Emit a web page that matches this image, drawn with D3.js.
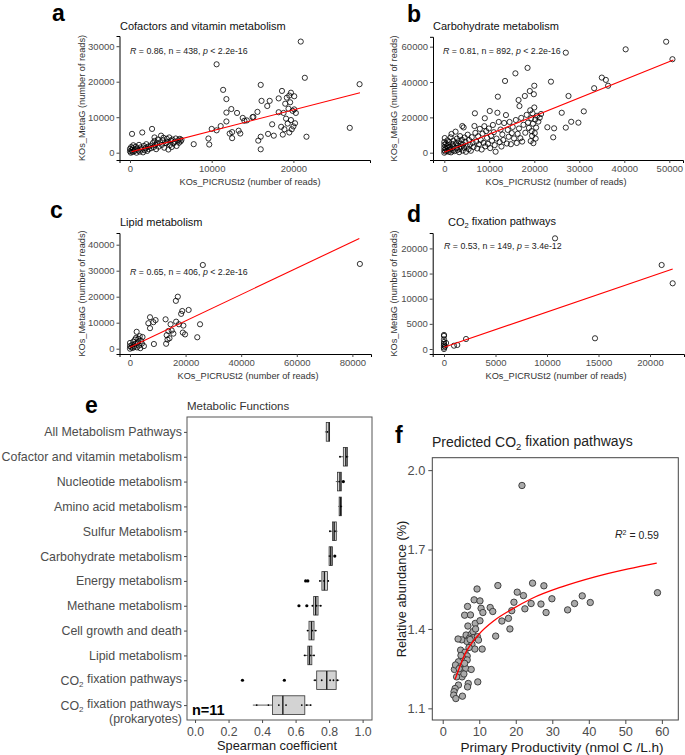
<!DOCTYPE html>
<html><head><meta charset="utf-8">
<script src="https://cdn.jsdelivr.net/npm/d3@7"></script>
<style>
body{margin:0;background:#fff}
svg{display:block}
text{font-family:"Liberation Sans",Arial,sans-serif}
</style>
</head><body>
<svg id="c" width="685" height="755"></svg>
<script>
// ---------------- DATA ----------------
// Panel a: Cofactors and vitamin metabolism  [PICRUSt2, MetaG]
const aPoints = [[0,400],[0,1100],[100,0],[150,1600],[200,700],[250,5300],[300,200],[350,1300],[400,2100],[500,400],[600,900],[700,1700],[800,0],[900,1200],[1000,600],[1100,2200],[1200,300],[1300,1500],[1400,900],[1500,5700],[1600,100],[1700,1900],[1800,700],[1900,1300],[2000,2400],[2100,500],[2200,1700],[2300,1000],[2500,2000],[2600,1300],[2700,6700],[2800,2700],[2900,1600],[3000,3300],[3000,4300],[3100,2200],[3200,1000],[3300,2700],[3400,3700],[3500,1700],[3700,2900],[3800,4800],[3900,2200],[4000,3500],[4100,4200],[4200,1400],[4400,2700],[4500,3900],[4600,3000],[4700,900],[4800,4300],[4900,2200],[5000,3400],[5100,1600],[5200,3700],[5300,2600],[5500,3100],[5600,4000],[5700,1900],[5900,3500],[6000,2800],[6100,3900],[6200,3200],[6300,3600],[7800,2400],
[9600,4000],[9700,2300],[10000,6700],[10600,6300],[10600,24900],[11100,7500],[11400,17700],[11800,15100],[11800,11300],[11800,8800],[12200,5400],[12400,12300],[12500,4100],[12500,5800],[13100,11200],[13300,6200],[13500,5400],[13800,9800],[14000,9000],[14300,9100],[15000,10000],[15100,10100],[15600,11500],[15700,3400],[16000,19100],[16100,14600],[16000,4500],[16000,960],[16800,13150],[17100,14600],[16900,5300],[17400,8000],[17600,4800],[18200,15300],[18200,11400],[18600,17400],[18500,7300],[18700,5100],[18800,11200],[18900,6600],[19000,13800],[19100,9600],[19200,15500],[19300,8200],[19400,12400],[19500,16100],[19500,5700],[19600,14200],[19700,16900],[19700,9200],[19800,6600],[19900,11800],[20000,7400],[20100,15900],[20100,12200],[20200,8300],[20300,11200],[20900,31300],[21400,21100],[21600,4500],[26900,7000],[28100,19300]];
const aFit = [[200,300],[28150,16900]];
const aXTicks = [0,10000,20000];
const aYTicks = [0,10000,20000,30000];

// Panel b: Carbohydrate metabolism
const bPoints = [[0,0],[0,1500],[0,3000],[0,4500],[0,6000],[100,8300],[200,700],[300,2200],[400,5200],[500,3700],[600,1000],[700,7000],[800,2800],[900,4300],[1000,500],[1100,6000],[1200,1800],[1300,3300],[1400,8700],[1500,200],[1600,10600],[1700,2400],[1800,4900],[1900,1200],[2000,6800],[2100,3600],[2300,900],[2500,11900],[2600,5400],[2700,2700],[2800,8000],[2900,1500],[3000,4200],[3200,6500],[3300,300],[3400,2200],[3500,9400],[3600,5100],[3700,3400],[3900,7300],[4000,15100],[4100,1200],[4200,4600],[4300,14300],[4400,2800],[4500,8600],[4700,6200],[4800,500],[5000,3800],[5200,10200],[5400,2000],[5500,7200],[5700,4500],[5900,1100],[6100,8800],[6300,5600],[6500,3200],[6700,15100],[6800,22300],[6900,11200],[7100,6300],[7300,2400],[7500,9300],[7700,4800],[7900,13500],[8100,7200],[8300,1800],[8500,10800],[8700,5600],[8900,15000],[9000,19500],[9100,3600],[9300,12200],[9500,8400],[9700,5000],[9900,13700],[10100,23600],[10200,2600],[10400,9600],[10600,6800],[10800,15700],[11000,11600],[11200,4300],[11400,570],[11600,8000],[11800,22600],[11900,31700],[12100,17400],[12300,6000],[12500,13100],[12700,3500],[12900,10300],[13100,7200],[13300,16800],[13500,40600],[13700,21300],[13900,5200],[14100,12900],[14300,9000],[14500,17400],[14800,4800],[15000,11100],[15200,14600],[15500,8100],[15800,44900],[15900,18500],[16100,5500],[16300,10700],[16500,29800],[16600,13700],[16700,26400],[16900,8200],[17100,19700],[17300,6300],[17600,15800],[17900,32100],[18000,11300],[18300,21400],[18500,48000],[18600,17000],[18800,14000],[19000,34900],[19100,24000],[19200,6600],[19300,19500],[19400,12200],[19500,9500],[19600,22300],[19700,16400],[19800,5400],[19900,33100],[20000,37900],[20000,25600],[20100,11100],[20200,18800],[20300,8000],[20400,14200],[20600,20900],[20900,17600],[21200,19800],[21500,21900],[22900,14400],[23700,40200],[24200,8700],[24400,13800],[26100,22600],[27000,14200],[27000,56600],[27600,32100],[28200,17500],[29800,17000],[31000,23400],[33300,36500],[35000,42500],[35900,41200],[36400,37900],[40300,58500],[49300,62800],[50700,52900]];
const bFit = [[0,220],[50900,52450]];
const bXTicks = [0,10000,20000,30000,40000,50000];
const bYTicks = [0,20000,40000,60000];

// Panel c: Lipid metabolism
const cPoints = [[0,0],[0,1000],[0,2200],[500,500],[800,1500],[1000,300],[1200,2700],[1500,800],[1800,3500],[2000,1800],[2200,4200],[2400,6500],[2500,500],[2800,2500],[3000,3800],[3200,1200],[3500,4800],[3700,200],[4000,3000],[4300,2000],[4500,4500],[5000,1000],[8600,1800],[6600,9800],[7200,12100],[7200,7900],[8400,10200],[9200,11000],[12800,11300],[13000,1900],[13200,5200],[13500,3500],[13800,6800],[14200,4000],[14600,9400],[15000,7000],[15600,5800],[16600,10400],[16500,18400],[17200,20000],[17600,9400],[18400,13400],[18800,14500],[19000,6200],[19200,8900],[19800,5500],[21100,14900],[24200,4400],[25200,9400],[26200,32200],[82700,32600]];
const cFit = [[0,540],[82500,42400]];
const cXTicks = [0,20000,40000,60000,80000];
const cYTicks = [0,10000,20000,30000,40000];

// Panel d: CO2 fixation pathways
const dPoints = [[0,0],[0,300],[0,700],[0,1000],[0,1400],[0,1900],[0,2600],[0,2800],[100,500],[200,1200],[970,660],[1290,800],[2140,1990],[10780,22000],[14660,2130],[21130,16700],[22200,13060]];
const dFit = [[0,340],[22200,15900]];
const dXTicks = [0,5000,10000,15000,20000];
const dYTicks = [0,5000,10000,15000,20000];

// Panel e: Spearman coefficients (n = 11)
const eCats = ["All Metabolism Pathways","Cofactor and vitamin metabolism","Nucleotide metabolism","Amino acid metabolism","Sulfur Metabolism","Carbohydrate metabolism","Energy metabolism","Methane metabolism","Cell growth and death","Lipid metabolism","CO2 fixation pathways","CO2 fixation pathways (prokaryotes)"];
const eLo  = [0.775,0.860,0.840,0.855,0.800,0.795,0.742,0.698,0.667,0.648,0.706,0.345];
const eQ1  = [0.783,0.885,0.850,0.860,0.820,0.800,0.757,0.708,0.680,0.673,0.726,0.462];
const eMed = [0.800,0.900,0.865,0.868,0.830,0.810,0.772,0.720,0.695,0.683,0.786,0.524];
const eQ3  = [0.803,0.910,0.873,0.873,0.843,0.820,0.790,0.734,0.710,0.697,0.842,0.655];
const eHi  = [0.805,0.915,0.875,0.878,0.850,0.822,0.798,0.755,0.725,0.715,0.860,0.693];
const eOutliers = [[],[],[0.885],[],[],[0.834],[0.660,0.673],[0.620,0.667],[],[],[0.283,0.533],[]];
const eJitter = [[0.79],[0.865,0.905],[0.86],[0.87],[0.805,0.835],[0.805],[0.745,0.77,0.795],[0.70,0.725,0.75],[0.672,0.70,0.72],[0.655,0.69,0.71],[0.716,0.756,0.806,0.826,0.85],[0.368,0.438,0.50,0.543,0.637,0.667,0.69]];
const eXTicks = [0,0.2,0.4,0.6,0.8,1.0];

// Panel f: Primary productivity vs predicted CO2 fixation relative abundance
const fPoints = [[21.7,1.942],[58.8,1.537],[27.7,1.563],[24.6,1.573],[15.1,1.564],[9.4,1.551],[20.4,1.539],[22.1,1.526],[29.9,1.514],[38.2,1.525],[40.4,1.50],[36.1,1.496],[34.2,1.472],[28.3,1.462],[26.9,1.494],[24.2,1.496],[22.5,1.476],[19.5,1.501],[18.9,1.469],[18.0,1.44],[18.4,1.40],[16.2,1.43],[14.5,1.373],[13.0,1.481],[13.7,1.466],
[8.6,1.51],[10.2,1.506],[10.5,1.478],[6.8,1.485],[11.0,1.462],[6.0,1.452],[7.6,1.453],[6.9,1.411],[8.9,1.421],[10.2,1.431],[6.4,1.377],[7.8,1.38],[8.4,1.367],[9.5,1.371],[7.3,1.365],[6.6,1.353],[5.2,1.359],[4.2,1.362],[8.0,1.342],[8.8,1.324],[10.8,1.324],[9.8,1.358],[4.9,1.32],[6.1,1.312],[6.7,1.298],[5.6,1.289],[6.7,1.283],[4.3,1.276],[3.2,1.247],[3.5,1.264],[4.9,1.257],[5.5,1.247],[6.3,1.251],[7.8,1.247],[4.8,1.232],[5.3,1.219],[3.8,1.219],[7.0,1.194],[6.8,1.181],[9.6,1.2],[4.3,1.188],[3.4,1.175],[3.1,1.163],[3.0,1.15],[3.6,1.137],[5.4,1.146],[7.2,1.33],[5.0,1.30],[6.0,1.27],[8.3,1.39],[9.0,1.40],[7.5,1.36],[5.8,1.23],[4.5,1.25]];
const fFitX = [3.4,6.1,9.8,14.3,18.9,24.4,32.6,41.7,50.8,58.6];
const fFitY = [1.21,1.305,1.378,1.434,1.474,1.515,1.559,1.597,1.627,1.649];
const fXTicks = [0,10,20,30,40,50,60];
const fYTicks = [1.1,1.4,1.7,2.0];

// ---------------- DRAWING ----------------
const FONT = '"Liberation Sans",Arial,sans-serif';
const svg = d3.select("#c");

function styleAxis(g, fs, domain) {
  g.attr("font-family", FONT).attr("font-size", fs);
  if (domain) g.select(".domain").attr("stroke", "#000").attr("stroke-width", 1);
  else g.select(".domain").remove();
  g.selectAll(".tick line").attr("stroke", "#333").attr("stroke-width", 0.9);
  g.selectAll(".tick text").attr("fill", "#4d4d4d");
}

function panelLetter(t, x, y) {
  svg.append("text").attr("x", x).attr("y", y).attr("font-size", 23).attr("font-weight", "bold")
    .attr("fill", "#000").text(t);
}

function statText(x, y, parts) {
  const t = svg.append("text").attr("x", x).attr("y", y).attr("font-size", 8.8).attr("fill", "#222");
  parts.forEach(p => t.append("tspan").attr("font-style", p[1] ? "italic" : "normal").text(p[0]));
}

function co2Text(sel, before, after, subSize) {
  sel.append("tspan").text(before + "CO");
  sel.append("tspan").attr("dy", "0.3em").attr("font-size", subSize).text("2");
  sel.append("tspan").attr("dy", "-0.3em").text(after);
}

function scatter(o) {
  const g = svg.append("g");
  const x = d3.scaleLinear().domain(o.xDomain).range([o.L, o.R]);
  const y = d3.scaleLinear().domain(o.yDomain).range([o.B, o.T]);
  g.append("g").attr("transform", `translate(0,${o.B})`)
    .call(d3.axisBottom(x).tickValues(o.xTicks).tickFormat(d3.format("d")).tickSizeOuter(0).tickSize(3).tickPadding(2))
    .call(s => styleAxis(s, 9.5, true));
  g.append("g").attr("transform", `translate(${o.L},0)`)
    .call(d3.axisLeft(y).tickValues(o.yTicks).tickFormat(d3.format("d")).tickSizeOuter(0).tickSize(3).tickPadding(2))
    .call(s => styleAxis(s, 9.5, true));
  g.append("g").selectAll("circle").data(o.points).join("circle")
    .attr("cx", d => x(d[0])).attr("cy", d => y(d[1])).attr("r", 2.6)
    .attr("fill", "#fff").attr("fill-opacity", 0).attr("stroke", "#000").attr("stroke-width", 0.8);
  g.append("path").datum(o.fit)
    .attr("d", d3.line().x(d => x(d[0])).y(d => y(d[1])))
    .attr("fill", "none").attr("stroke", "#ff0000").attr("stroke-width", 1.1);
  g.append("text").attr("x", o.xTitleX).attr("y", o.B + 25).attr("text-anchor", "middle")
    .attr("font-size", 9.2).attr("fill", "#333").text("KOs_PICRUSt2 (number of reads)");
  g.append("text").attr("transform", `translate(${o.yTitleX},${(o.T + o.B) / 2}) rotate(-90)`)
    .attr("text-anchor", "middle").attr("font-size", 9.2).attr("fill", "#333").text("KOs_MetaG (number of reads)");
  return {x, y};
}

// ---- Panel a
panelLetter("a", 52, 21);
svg.append("text").attr("x", 120).attr("y", 29.5).attr("font-size", 11).attr("fill", "#111").text("Cofactors and vitamin metabolism");
scatter({L:119.5, R:370, T:36, B:160, xDomain:[-1285,29376], yDomain:[-2056,32873],
  xTicks:aXTicks, yTicks:aYTicks, points:aPoints, fit:aFit, xTitleX:250, yTitleX:84.5});
statText(130, 53.5, [["R",1],[" = 0.86, n = 438, ",0],["p",1],[" < 2.2e-16",0]]);

// ---- Panel b
panelLetter("b", 407, 22);
svg.append("text").attr("x", 433).attr("y", 29.5).attr("font-size", 11).attr("fill", "#111").text("Carbohydrate metabolism");
scatter({L:433, R:683, T:36.8, B:160, xDomain:[-2511,53044], yDomain:[-4130,65591],
  xTicks:bXTicks, yTicks:bYTicks, points:bPoints, fit:bFit, xTitleX:556, yTitleX:396.5});
statText(443, 53.5, [["R",1],[" = 0.81, n = 892, ",0],["p",1],[" < 2.2e-16",0]]);

// ---- Panel c
panelLetter("c", 50, 218);
svg.append("text").attr("x", 120).attr("y", 225.7).attr("font-size", 11).attr("fill", "#111").text("Lipid metabolism");
scatter({L:119.5, R:371, T:233, B:354, xDomain:[-3777,86700], yDomain:[-2038,44500],
  xTicks:cXTicks, yTicks:cYTicks, points:cPoints, fit:cFit, xTitleX:248, yTitleX:84.5});
statText(130, 275, [["R",1],[" = 0.65, n = 406, ",0],["p",1],[" < 2.2e-16",0]]);

// ---- Panel d
panelLetter("d", 407, 221.5);
co2Text(svg.append("text").attr("x", 448).attr("y", 225.7).attr("font-size", 11).attr("fill", "#111"), "", " fixation pathways", 7.5);
scatter({L:432.7, R:684, T:233, B:354, xDomain:[-1097,23300], yDomain:[-994,23062],
  xTicks:dXTicks, yTicks:dYTicks, points:dPoints, fit:dFit, xTitleX:556, yTitleX:396.5});
statText(444, 249, [["R",1],[" = 0.53, n = 149, ",0],["p",1],[" = 3.4e-12",0]]);

// ---- Panel e
(function(){
  const L = 187, R = 372, T = 417, B = 720;
  panelLetter("e", 85, 413);
  svg.append("text").attr("x", 187).attr("y", 410).attr("font-size", 11.5).attr("fill", "#333").text("Metabolic Functions");
  const x = d3.scaleLinear().domain([-0.048, 1.056]).range([L, R]);
  const y = d3.scalePoint().domain(eCats).range([T, B]).padding(0.6);
  const g = svg.append("g");
  g.append("g").attr("transform", `translate(0,${B})`)
    .call(d3.axisBottom(x).tickValues(eXTicks).tickFormat(d3.format(".1f")).tickSize(3).tickPadding(4))
    .call(s => styleAxis(s, 12.3, false));
  g.append("g").attr("transform", `translate(${L},0)`)
    .call(d3.axisLeft(y).tickFormat("").tickSize(3))
    .call(s => styleAxis(s, 12.4, false));
  eCats.forEach((c, i) => {
    const yy = y(c);
    if (c.startsWith("CO2")) {
      const t = g.append("text").attr("x", 182).attr("y", yy + 4.5).attr("text-anchor", "end")
        .attr("font-size", 12.4).attr("fill", "#4d4d4d");
      co2Text(t, "", " fixation pathways", 8);
      if (c.includes("prokaryotes")) {
        g.append("text").attr("x", 182).attr("y", yy + 17.5).attr("text-anchor", "end")
          .attr("font-size", 12.4).attr("fill", "#4d4d4d").text("(prokaryotes)");
      }
    } else {
      g.append("text").attr("x", 182).attr("y", yy + 4.5).attr("text-anchor", "end")
        .attr("font-size", 12.4).attr("fill", "#4d4d4d").text(c);
    }
  });
  const bh = y.step() * 0.75;
  const rows = eCats.map((c, i) => ({c, lo:eLo[i], q1:eQ1[i], med:eMed[i], q3:eQ3[i], hi:eHi[i], out:eOutliers[i], jit:eJitter[i]}));
  const rg = g.append("g").selectAll("g").data(rows).join("g").attr("transform", d => `translate(0,${y(d.c)})`);
  rg.append("line").attr("x1", d => x(d.lo)).attr("x2", d => x(d.q1)).attr("stroke", "#333").attr("stroke-width", 0.8);
  rg.append("line").attr("x1", d => x(d.q3)).attr("x2", d => x(d.hi)).attr("stroke", "#333").attr("stroke-width", 0.8);
  rg.append("rect").attr("x", d => x(d.q1)).attr("width", d => x(d.q3) - x(d.q1)).attr("y", -bh / 2).attr("height", bh)
    .attr("fill", "#d3d3d3").attr("stroke", "#333").attr("stroke-width", 0.8);
  rg.append("line").attr("x1", d => x(d.med)).attr("x2", d => x(d.med)).attr("y1", -bh / 2).attr("y2", bh / 2)
    .attr("stroke", "#1a1a1a").attr("stroke-width", 1.4);
  rg.each(function(d){
    d3.select(this).selectAll("circle.o").data(d.out).join("circle").attr("class", "o")
      .attr("cx", v => x(v)).attr("cy", 0).attr("r", 1.6).attr("fill", "#000");
    d3.select(this).selectAll("circle.j").data(d.jit).join("circle").attr("class", "j")
      .attr("cx", v => x(v)).attr("cy", 0).attr("r", 0.9).attr("fill", "#000");
  });
  g.append("rect").attr("x", L).attr("y", T).attr("width", R - L).attr("height", B - T)
    .attr("fill", "none").attr("stroke", "#555").attr("stroke-width", 1);
  g.append("text").attr("x", 192).attr("y", 715).attr("font-size", 14.5).attr("font-weight", "bold").attr("fill", "#000").text("n=11");
  g.append("text").attr("x", 277).attr("y", 750).attr("text-anchor", "middle").attr("font-size", 12.8)
    .attr("fill", "#1a1a1a").text("Spearman coefficient");
})();

// ---- Panel f
(function(){
  const L = 432.3, R = 678.3, T = 457.7, B = 720;
  panelLetter("f", 395, 443);
  co2Text(svg.append("text").attr("x", 432).attr("y", 447).attr("font-size", 14).attr("fill", "#222"), "Predicted ", " fixation pathways", 9.5);
  const x = d3.scaleLinear().domain([-2.85, 64.5]).range([L, R]);
  const y = d3.scaleLinear().domain([1.056, 2.047]).range([B, T]);
  const g = svg.append("g");
  g.append("g").attr("transform", `translate(0,${B})`)
    .call(d3.axisBottom(x).tickValues(fXTicks).tickFormat(d3.format("d")).tickSize(4).tickPadding(3))
    .call(s => styleAxis(s, 12.8, false));
  g.append("g").attr("transform", `translate(${L},0)`)
    .call(d3.axisLeft(y).tickValues(fYTicks).tickFormat(d3.format(".1f")).tickSize(4).tickPadding(3))
    .call(s => styleAxis(s, 12.8, false));
  g.append("g").selectAll("circle").data(fPoints).join("circle")
    .attr("cx", d => x(d[0])).attr("cy", d => y(d[1])).attr("r", 3.2)
    .attr("fill", "#aaaaaa").attr("stroke", "#333").attr("stroke-width", 0.9);
  const fit = fFitX.map((v, i) => [v, fFitY[i]]);
  g.append("path").datum(fit).attr("d", d3.line().curve(d3.curveMonotoneX).x(d => x(d[0])).y(d => y(d[1])))
    .attr("fill", "none").attr("stroke", "#ff0000").attr("stroke-width", 1.3);
  g.append("rect").attr("x", L).attr("y", T).attr("width", R - L).attr("height", B - T)
    .attr("fill", "none").attr("stroke", "#444").attr("stroke-width", 1);
  const r2 = g.append("text").attr("x", 615).attr("y", 538).attr("font-size", 10.5).attr("fill", "#222");
  r2.append("tspan").attr("font-style", "italic").text("R");
  r2.append("tspan").attr("dy", "-0.4em").attr("font-size", 7).text("2");
  r2.append("tspan").attr("dy", "0.4em").text(" = 0.59");
  g.append("text").attr("x", 562).attr("y", 751.5).attr("text-anchor", "middle").attr("font-size", 13.6)
    .attr("fill", "#1a1a1a").text("Primary Productivity (nmol C /L.h)");
  g.append("text").attr("transform", `translate(406,589) rotate(-90)`).attr("text-anchor", "middle")
    .attr("font-size", 12.8).attr("fill", "#1a1a1a").text("Relative abundance (%)");
})();
</script>
</body></html>
